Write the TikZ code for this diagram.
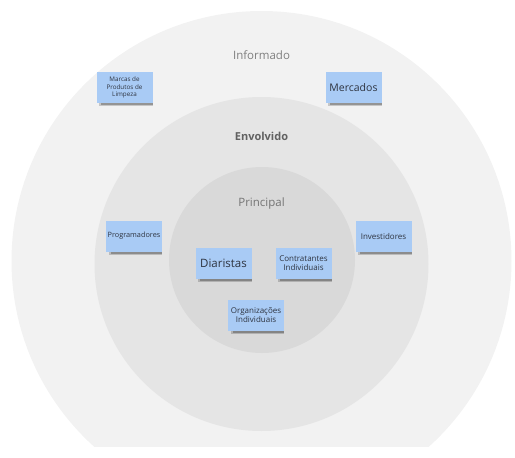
\documentclass[tikz,border=0pt]{standalone}
\usepackage{fontspec}
\setmainfont{Open Sans}
\definecolor{outerc}{HTML}{F2F2F2}
\definecolor{midc}{HTML}{E5E5E5}
\definecolor{innc}{HTML}{D9D9D9}
\definecolor{notefill}{HTML}{A9CBF5}
\definecolor{notetext}{HTML}{2E3440}
\definecolor{lbl}{HTML}{7F7F7F}
\begin{document}
\begin{tikzpicture}[x=1pt,y=-1pt,
  note/.style={fill=notefill, minimum width=56pt, minimum height=31pt, inner sep=1pt, align=center, text=notetext},
  ring/.style={text=lbl, font=\fontsize{11.5}{13}\selectfont}]
\useasboundingbox (0,0) rectangle (515,458);
\begin{scope}
  \clip (0,0) rectangle (515,446);
  \fill[outerc] (261.5,261) circle (250);
\end{scope}
\fill[midc] (261.5,264) circle (167);
\fill[innc] (262,260) circle (93);
\node[ring] (inf) at (261.5,55) {Informado};
\node[ring, font=\bfseries\fontsize{11}{13}\selectfont, text=black!62] (env) at (261.5,136) {Envolvido};
\node[ring, text=black!55] (pri) at (261.5,204) {Principal};
\node[note, font=\fontsize{6.3}{7.5}\selectfont] (marcas) at (124.5,87.5) {Marcas de\\Produtos de\\Limpeza};
\node[note, font=\fontsize{10.5}{12}\selectfont] (merc) at (353.5,87.5) {Mercados};
\node[note, font=\fontsize{7.3}{8.5}\selectfont] (prog) at (134,236) {Programadores};
\node[note, font=\fontsize{11.5}{13}\selectfont] (diar) at (223.5,263) {Diaristas};
\node[note, font=\fontsize{8}{9.5}\selectfont] (contr) at (303.5,263) {Contratantes\\Individuais};
\node[note, font=\fontsize{8}{9.5}\selectfont] (inv) at (383.5,236) {Investidores};
\node[note, font=\fontsize{8}{9.5}\selectfont] (org) at (256,315) {Organizações\\Individuais};
\foreach \n in {marcas,merc,prog,diar,contr,inv,org}{
  \fill[black, opacity=0.18] ([xshift=3pt]\n.south west) rectangle ([yshift=-3pt]\n.south east);
  \fill[black, opacity=0.25] ([xshift=5pt]\n.south west) rectangle ([yshift=-1.8pt]\n.south east);
}
\end{tikzpicture}
\end{document}
